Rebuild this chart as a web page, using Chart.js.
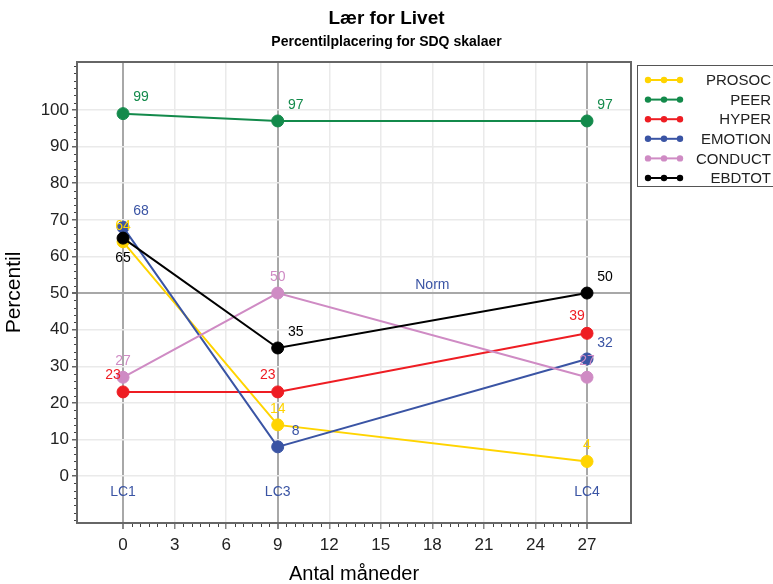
<!DOCTYPE html>
<html>
<head>
<meta charset="utf-8">
<script src="https://cdn.jsdelivr.net/npm/chart.js@4.4.1/dist/chart.umd.min.js"></script>
<style>
html,body{margin:0;padding:0;background:#fff;}
#wrap{position:relative;width:773px;height:584px;}
</style>
</head>
<body>
<div id="wrap"><canvas id="c" width="773" height="584"></canvas></div>
<script>
// ---- data ----
const months = [0, 9, 27];
const seriesNames = ['PROSOC', 'PEER', 'HYPER', 'EMOTION', 'CONDUCT', 'EBDTOT'];
const prosoc  = [64, 14, 4];
const peer    = [99, 97, 97];
const hyper   = [23, 23, 39];
const emotion = [68, 8, 32];
const conduct = [27, 50, 27];
const ebdtot  = [65, 35, 50];
const xTickLabels = [0, 3, 6, 9, 12, 15, 18, 21, 24, 27];
const yTickLabels = [0, 10, 20, 30, 40, 50, 60, 70, 80, 90, 100];
const refMonths = [0, 9, 27];
const refNames = ['LC1', 'LC3', 'LC4'];
const normValue = 50;
const normLabel = 'Norm';

// ---- styles ----
const colors = ['#FFD400', '#138A4B', '#EE1D23', '#3A54A4', '#CF8BC4', '#000000'];
const labelPlacement = [
  ['above', 'above', 'above'],
  ['upperRight', 'upperRight', 'upperRight'],
  ['upperLeft', 'upperLeft', 'upperLeft'],
  ['upperRight', 'upperRight', 'upperRight'],
  ['above', 'above', 'above'],
  ['below', 'upperRight', 'upperRight']
];
const placeOffsets = {
  above: [0, -16], below: [0, 20], upperRight: [18, -16], upperLeft: [-10, -17]
};
const FONT = "'Liberation Sans', Arial, Helvetica, sans-serif";
const refColor = '#3A54A4';

const values = [prosoc, peer, hyper, emotion, conduct, ebdtot];
const datasets = seriesNames.map((name, i) => ({
  label: name,
  data: months.map((m, j) => ({x: m, y: values[i][j]})),
  borderColor: colors[i],
  backgroundColor: colors[i],
  pointBackgroundColor: colors[i],
  pointBorderColor: colors[i],
  pointRadius: 6,
  pointBorderWidth: 1,
  borderWidth: 2,
  tension: 0,
  order: seriesNames.length - i
}));

const overlayPlugin = {
  id: 'overlay',
  afterDatasetsDraw(chart) {
    const ctx = chart.ctx;
    const xs = chart.scales.x, ys = chart.scales.y;
    ctx.save();
    ctx.font = '14px ' + FONT;
    ctx.fillStyle = refColor;
    ctx.textAlign = 'center';
    ctx.textBaseline = 'middle';
    refMonths.forEach((m, i) => {
      ctx.fillText(refNames[i], xs.getPixelForValue(m), ys.getPixelForValue(-4.4));
    });
    ctx.textBaseline = 'bottom';
    ctx.fillText(normLabel, xs.getPixelForValue(18), ys.getPixelForValue(normValue) - 1);
    ctx.textBaseline = 'middle';
    chart.data.datasets.forEach((ds, i) => {
      const meta = chart.getDatasetMeta(i);
      ctx.fillStyle = colors[i];
      meta.data.forEach((pt, j) => {
        const off = placeOffsets[labelPlacement[i][j]];
        ctx.fillText(String(values[i][j]), pt.x + off[0], pt.y + off[1]);
      });
    });
    ctx.restore();
  },
  afterDraw(chart) {
    const ctx = chart.ctx;
    const a = chart.chartArea;
    const xs = chart.scales.x, ys = chart.scales.y;
    ctx.save();
    ctx.strokeStyle = '#666';
    ctx.lineWidth = 2;
    ctx.strokeRect(a.left, a.top, a.right - a.left, a.bottom - a.top);
    ctx.lineWidth = 1;
    ctx.strokeStyle = '#444';
    ctx.beginPath();
    for (let v = 0; v <= 27; v += 0.5) {
      if (v % 3 === 0) continue;
      const px = Math.round(xs.getPixelForValue(v)) + 0.5;
      ctx.moveTo(px, a.bottom + 1);
      ctx.lineTo(px, a.bottom + 4);
    }
    for (let v = -12; v <= 112; v += 2) {
      if (v % 10 === 0 && v >= 0 && v <= 100) continue;
      const py = Math.round(ys.getPixelForValue(v)) + 0.5;
      ctx.moveTo(a.left - 1, py);
      ctx.lineTo(a.left - 3, py);
    }
    ctx.stroke();
    const lx = 637.5, ly = 65.5;
    ctx.strokeStyle = '#555';
    ctx.lineWidth = 1;
    ctx.strokeRect(lx, ly, 145, 121);
    ctx.font = '15px ' + FONT;
    ctx.textAlign = 'right';
    ctx.textBaseline = 'middle';
    chart.data.datasets.forEach((ds, i) => {
      const y = 80 + i * 19.6;
      ctx.strokeStyle = colors[i];
      ctx.fillStyle = colors[i];
      ctx.lineWidth = 2;
      ctx.beginPath();
      ctx.moveTo(648, y); ctx.lineTo(680, y);
      ctx.stroke();
      [648, 664, 680].forEach(px => {
        ctx.beginPath(); ctx.arc(px, y, 3.2, 0, Math.PI * 2); ctx.fill();
      });
      ctx.fillStyle = '#222';
      ctx.fillText(ds.label, 771, y + 1);
    });
    ctx.restore();
  }
};

new Chart(document.getElementById('c'), {
  type: 'line',
  data: { datasets },
  plugins: [overlayPlugin],
  options: {
    responsive: false,
    animation: false,
    layout: { padding: 0 },
    plugins: {
      legend: { display: false },
      tooltip: { enabled: false },
      title: {
        display: true, text: 'Lær for Livet', color: '#000',
        font: { family: FONT, size: 19, weight: 'bold' },
        padding: { top: 7, bottom: 0 }
      },
      subtitle: {
        display: true, text: 'Percentilplacering for SDQ skalaer', color: '#000',
        font: { family: FONT, size: 14, weight: 'bold' },
        padding: { top: 4, bottom: 11.4 }
      }
    },
    scales: {
      x: {
        type: 'linear', position: 'bottom', min: -2.68, max: 29.56,
        afterBuildTicks: s => { s.ticks = xTickLabels.map(v => ({value: v})); },
        afterFit: s => { s.height = 61; },
        ticks: { font: { family: FONT, size: 17 }, color: '#222', padding: 6, maxRotation: 0, autoSkip: false },
        grid: {
          color: c => refMonths.includes(c.tick.value) ? '#A8A8A8' : '#EAEAEA',
          lineWidth: c => refMonths.includes(c.tick.value) ? 2 : 1.5,
          tickColor: '#888', tickLength: 6
        },
        border: { display: false },
        title: { display: true, text: 'Antal måneder', color: '#000', font: { family: FONT, size: 20, lineHeight: 1 }, padding: 0 }
      },
      y: {
        type: 'linear', position: 'left', min: -12.8, max: 113.1,
        afterBuildTicks: s => { s.ticks = yTickLabels.map(v => ({value: v})); },
        afterFit: s => { s.width = 77; },
        ticks: { font: { family: FONT, size: 17 }, color: '#222', padding: 3, autoSkip: false },
        grid: {
          color: c => c.tick.value === normValue ? '#A8A8A8' : '#EAEAEA',
          lineWidth: c => c.tick.value === normValue ? 2 : 1.5,
          tickColor: '#666', tickLength: 5
        },
        border: { display: false },
        title: { display: true, text: 'Percentil', color: '#000', font: { family: FONT, size: 21, lineHeight: 1.2 }, padding: { top: 2, bottom: 0 } }
      },
      y2: {
        type: 'linear', position: 'right', display: true,
        afterFit: s => { s.width = 142; },
        ticks: { display: false },
        grid: { display: false },
        border: { display: false }
      }
    }
  }
});
</script>
</body>
</html>
